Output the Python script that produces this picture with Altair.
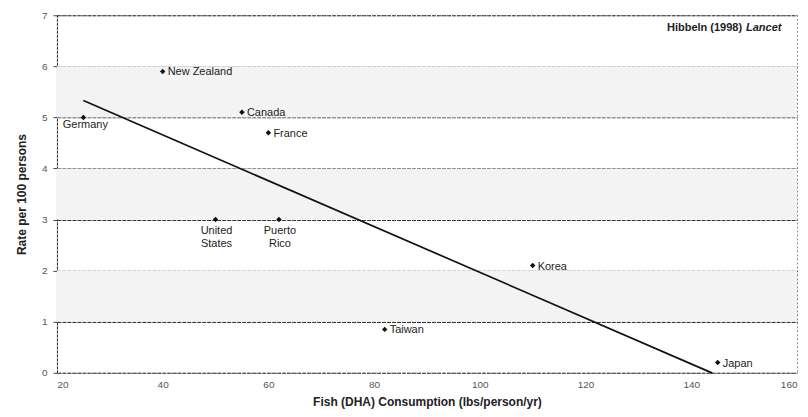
import altair as alt
import pandas as pd

countries = ["New Zealand", "Canada", "France", "Germany", "United\nStates",
             "Puerto\nRico", "Taiwan", "Korea", "Japan"]
fish = [40, 55, 60, 25, 50, 62, 82, 110, 145]
rate = [5.9, 5.1, 4.7, 5.0, 3.0, 3.0, 0.85, 2.1, 0.2]
label_side = ["right", "right", "right", "germany", "below", "below", "right", "right", "right"]

band_lo = [1, 3, 5]
band_hi = [2, 4, 6]

x_ticks = [20, 40, 60, 80, 100, 120, 140, 160]
y_ticks = [0, 1, 2, 3, 4, 5, 6, 7]

df = pd.DataFrame({"country": countries, "fish": fish, "rate": rate, "side": label_side})
bands = pd.DataFrame({"lo": band_lo, "hi": band_hi})

FONT = "Liberation Sans"

xs = alt.Scale(domain=[20, 160], nice=False, zero=False)
ys = alt.Scale(domain=[0, 7], nice=False)

band_layer = alt.Chart(bands).mark_rect(color="#f3f3f3").encode(
    y=alt.Y("lo:Q", scale=ys),
    y2="hi:Q",
    x=alt.value(0),
    x2=alt.value(741),
)

base = alt.Chart(df)

axis_layer = base.mark_point(opacity=0).encode(
    x=alt.X("fish:Q", scale=xs,
            axis=alt.Axis(values=x_ticks, grid=False, ticks=False, domain=False,
                          title="Fish (DHA) Consumption (lbs/person/yr)",
                          labelPadding=7, titlePadding=7)),
    y=alt.Y("rate:Q", scale=ys,
            axis=alt.Axis(values=y_ticks, grid=True, gridColor="#333", gridDash=[4, 1],
                          gridWidth=1.1, tickSize=4, tickColor="#444",
                          domainColor="#333", domainDash=[3, 1],
                          title="Rate per 100 persons", labelPadding=6, titlePadding=13)),
)

fit = base.transform_regression("fish", "rate", extent=[25, 144]).mark_line(
    color="#111", strokeWidth=1.7
).encode(x=alt.X("fish:Q", scale=xs), y=alt.Y("rate:Q", scale=ys))

pts = base.mark_point(shape="diamond", filled=True, color="#111", size=30, opacity=1).encode(
    x=alt.X("fish:Q", scale=xs), y=alt.Y("rate:Q", scale=ys)
)

lbl_right = base.transform_filter(alt.datum.side == "right").mark_text(
    align="left", baseline="middle", dx=5, dy=1, font=FONT, fontSize=11, color="#222"
).encode(x=alt.X("fish:Q", scale=xs), y=alt.Y("rate:Q", scale=ys), text="country:N")

lbl_germany = base.transform_filter(alt.datum.side == "germany").mark_text(
    align="center", baseline="top", dx=2, dy=2, font=FONT, fontSize=11, color="#222"
).encode(x=alt.X("fish:Q", scale=xs), y=alt.Y("rate:Q", scale=ys), text="country:N")

lbl_below = base.transform_filter(alt.datum.side == "below").mark_text(
    align="center", baseline="top", dx=1, dy=5, lineBreak="\n", lineHeight=13,
    font=FONT, fontSize=11, color="#222"
).encode(x=alt.X("fish:Q", scale=xs), y=alt.Y("rate:Q", scale=ys), text="country:N")

src1 = alt.Chart(pd.DataFrame({"t": ["Hibbeln (1998)"]})).mark_text(
    align="right", baseline="middle", font=FONT, fontSize=11, fontWeight="bold", color="#222"
).encode(x=alt.value(686), y=alt.value(13), text="t:N")

src2 = alt.Chart(pd.DataFrame({"t": ["Lancet"]})).mark_text(
    align="left", baseline="middle", font=FONT, fontSize=11, fontWeight="bold",
    fontStyle="italic", color="#222"
).encode(x=alt.value(690), y=alt.value(13), text="t:N")

chart = alt.layer(
    band_layer, axis_layer, fit, pts, lbl_right, lbl_germany, lbl_below, src1, src2
).properties(
    width=741, height=358,
    autosize=alt.AutoSizeParams(type="none"),
    padding={"left": 49, "top": 7, "right": 3, "bottom": 36},
).configure_view(
    stroke="#888", strokeDash=[2, 2], strokeWidth=1
).configure_axis(
    labelFont=FONT, labelFontSize=10, labelColor="#555",
    titleFont=FONT, titleFontSize=12, titleFontWeight="bold", titleColor="#222",
)

chart.save("out.html", embed_options={"renderer": "svg", "actions": False})
